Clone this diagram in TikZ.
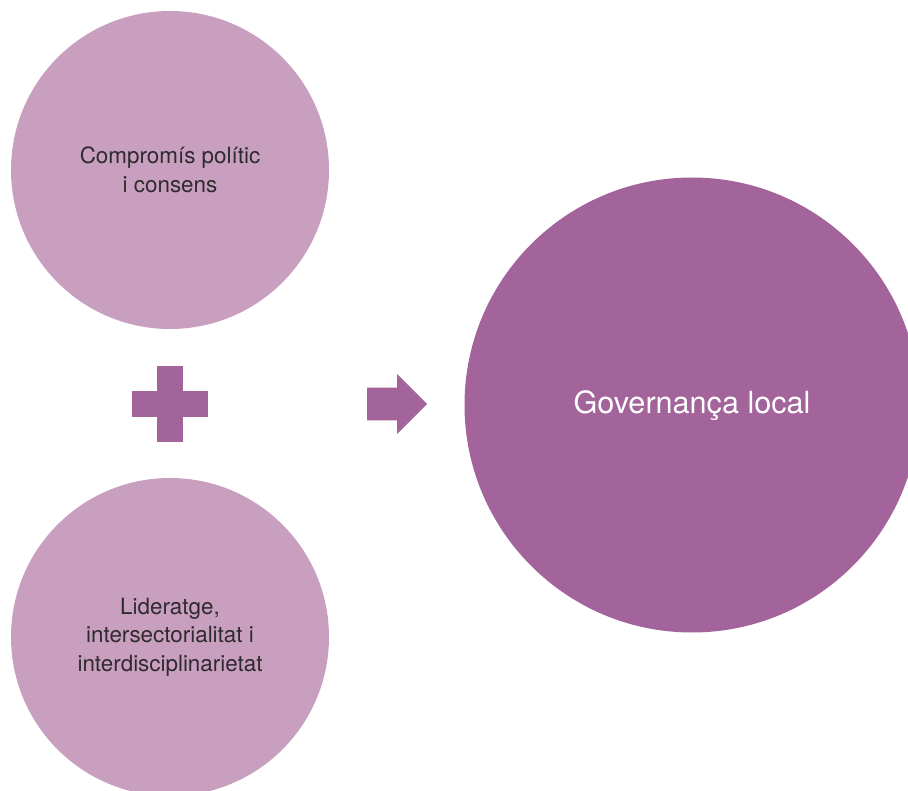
\documentclass[tikz,border=0pt]{standalone}
\usepackage{fontspec}
\setmainfont{TeX Gyre Heros}
\usetikzlibrary{calc}
\definecolor{lightplum}{HTML}{C99FC0}
\definecolor{darkplum}{HTML}{A3639B}
\definecolor{txtgray}{HTML}{2E2A2D}
\tikzset{
  smallcircle/.style={circle, fill=lightplum, draw=none, minimum size=318pt, inner sep=0pt,
    align=center, text=txtgray, font=\fontsize{22.4}{28.5}\selectfont},
  bigcircle/.style={circle, fill=darkplum, draw=none, minimum size=455pt, inner sep=0pt,
    text=white, font=\fontsize{30.6}{36}\selectfont},
  symbolshape/.style={fill=darkplum, draw=none}
}
\begin{document}
\begin{tikzpicture}[x=1pt, y=-1pt]
  \useasboundingbox (0,0) rectangle (908,791);
  \clip (0,0) rectangle (908,791);
  \node[smallcircle] (top) at (170,170) {Compromís polític\\i consens};
  \node[smallcircle] (bottom) at (170,637) {Lideratge,\\intersectorialitat i\\interdisciplinarietat};
  \node[bigcircle] (gov) at (692,405) {};
  \node[text=white, font=\fontsize{30.6}{36}\selectfont, inner sep=0pt] (govtext) at (692,406) {Governança local};
  \coordinate (plus) at (170,404);
  \coordinate (arrowtip) at (427,404);
  % plus sign
  \fill[symbolshape] ($(plus)+(-13.3,-38)$) rectangle ($(plus)+(13.3,38)$);
  \fill[symbolshape] ($(plus)+(-38,-13.3)$) rectangle ($(plus)+(38,13.3)$);
  % arrow
  \fill[symbolshape] ($(arrowtip)+(-60,-16.3)$) -- ($(arrowtip)+(-30,-16.3)$) -- ($(arrowtip)+(-30,-30)$)
    -- (arrowtip) -- ($(arrowtip)+(-30,30)$) -- ($(arrowtip)+(-30,16.3)$) -- ($(arrowtip)+(-60,16.3)$) -- cycle;
\end{tikzpicture}
\end{document}
